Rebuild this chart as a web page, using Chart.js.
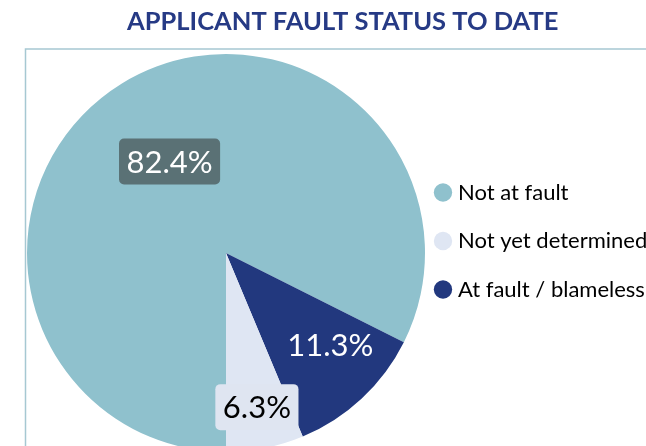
<!DOCTYPE html>
<html>
<head>
<meta charset="utf-8">
<script src="https://cdn.jsdelivr.net/npm/chart.js@4.4.0/dist/chart.umd.min.js"></script>
<style>
  html, body { margin: 0; padding: 0; overflow: hidden; background: #fff; }
</style>
</head>
<body>
<canvas id="faultChart" width="700" height="458"></canvas>
<script>
const categories = ["Not at fault", "Not yet determined", "At fault / blameless"];
const shares = [82.4, 6.3, 11.3];
const sliceColors = ["#8fc1cd", "#dfe6f3", "#22387e"];
// the original goes round anticlockwise, chart.js only does clockwise
const drawOrder = [0, 2, 1];

const labelStyle = [
  { dist: 0.54, turn: 0, color: "#ffffff", box: "#5a7175" },
  { dist: 0.79, turn: 0, color: "#000000", box: "#dfe5f1" },
  { dist: 0.70, turn: -5.5, color: "#ffffff", box: null },
];

Chart.defaults.font.family = "Lato";

const frame = {
  id: "frame",
  beforeDraw(chart) {
    const ctx = chart.ctx;
    ctx.save();
    ctx.strokeStyle = "#a6c8d2";
    ctx.lineWidth = 1.5;
    ctx.strokeRect(25.5, 49, 900, 600);
    ctx.restore();
  },
};

const sliceLabels = {
  id: "sliceLabels",
  afterDatasetsDraw(chart) {
    const ctx = chart.ctx;
    const meta = chart.getDatasetMeta(0);
    ctx.save();
    ctx.font = "31px Lato";
    ctx.textAlign = "center";
    ctx.textBaseline = "middle";
    meta.data.forEach((arc, i) => {
      const cat = drawOrder[i];
      const st = labelStyle[cat];
      const p = arc.getProps(["x", "y", "startAngle", "endAngle", "outerRadius"], true);
      const mid = (p.startAngle + p.endAngle) / 2 + st.turn * Math.PI / 180;
      const lx = p.x + Math.cos(mid) * p.outerRadius * st.dist;
      const ly = p.y + Math.sin(mid) * p.outerRadius * st.dist;
      const text = shares[cat].toFixed(1) + "%";
      if (st.box) {
        const w = ctx.measureText(text).width + 15;
        const h = 46;
        ctx.fillStyle = st.box;
        ctx.beginPath();
        ctx.roundRect(lx - w / 2, ly - h / 2, w, h, 5);
        ctx.fill();
      }
      ctx.fillStyle = st.color;
      ctx.fillText(text, lx, ly + 1);
    });
    ctx.restore();
  },
};

new Chart(document.getElementById("faultChart"), {
  type: "pie",
  data: {
    labels: drawOrder.map((c) => categories[c]),
    datasets: [
      {
        data: drawOrder.map((c) => shares[c]),
        backgroundColor: drawOrder.map((c) => sliceColors[c]),
        borderWidth: 0,
      },
    ],
  },
  options: {
    responsive: false,
    animation: false,
    rotation: 180,
    radius: 199,
    layout: {
      padding: { left: 39.5, right: 54, top: 0, bottom: 0 },
    },
    plugins: {
      tooltip: { enabled: false },
      title: {
        display: true,
        text: "APPLICANT FAULT STATUS TO DATE",
        color: "#263a85",
        font: { size: 25.5, weight: "bold" },
        padding: { top: 6, bottom: 11.4 },
      },
      legend: {
        position: "right",
        maxWidth: 233.5,
        title: { display: true, text: " ", font: { size: 10 }, padding: 6 },
        labels: {
          usePointStyle: true,
          pointStyle: "circle",
          boxWidth: 8,
          boxHeight: 13,
          padding: 26.5,
          color: "#000000",
          font: { size: 22 },
          sort: (a, b) => drawOrder[a.index] - drawOrder[b.index],
        },
      },
    },
  },
  plugins: [frame, sliceLabels],
});
</script>
</body>
</html>
